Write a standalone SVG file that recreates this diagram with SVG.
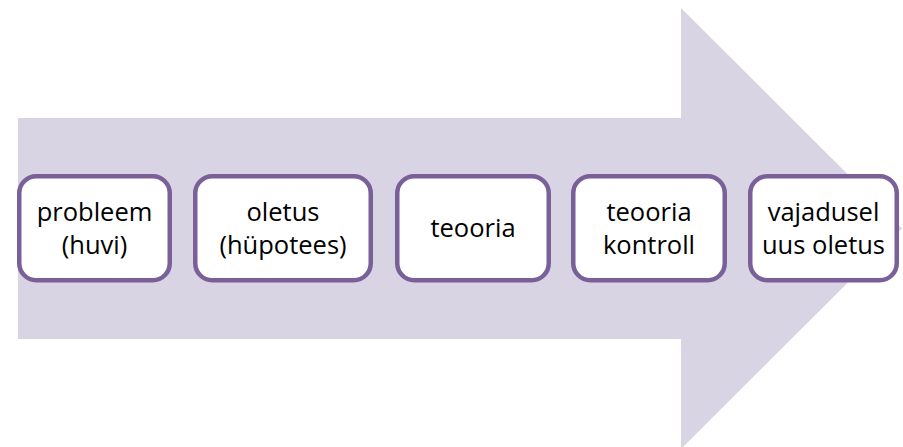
<svg xmlns="http://www.w3.org/2000/svg" width="903" height="447" viewBox="0 0 903 447">
<style>
.node rect{fill:#fff;stroke:#7A5F98;stroke-width:4.5}
.node text{font-family:"Open Sans","Noto Sans",sans-serif;font-size:25.5px;fill:#000;text-anchor:middle}
</style>
<rect width="903" height="447" fill="#fff"/>
<g id="arrow">
<polygon points="18,118 681,118 681,8 902,228.5 681,449 681,339 18,339" fill="#D8D4E3"/>
</g>
<g id="connectors"></g>
<g id="n1" class="node"><rect x="19.25" y="176.25" width="150.5" height="104" rx="17"/><text x="94.5" y="221">probleem</text><text x="94.5" y="254">(huvi)</text></g>
<g id="n2" class="node"><rect x="195.25" y="176.25" width="175.5" height="104" rx="17"/><text x="283" y="221">oletus</text><text x="283" y="254">(hüpotees)</text></g>
<g id="n3" class="node"><rect x="397.25" y="176.25" width="151.5" height="104" rx="17"/><text x="473" y="237">teooria</text></g>
<g id="n4" class="node"><rect x="573.25" y="176.25" width="151.5" height="104" rx="17"/><text x="649" y="221">teooria</text><text x="649" y="254">kontroll</text></g>
<g id="n5" class="node"><rect x="750.25" y="176.25" width="146.5" height="104" rx="17"/><text x="823.5" y="221">vajadusel</text><text x="823.5" y="254">uus oletus</text></g>
</svg>
